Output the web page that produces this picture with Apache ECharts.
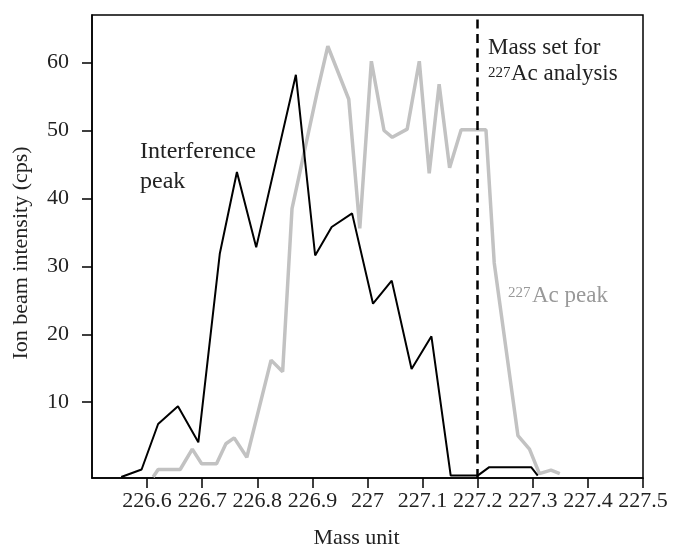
<!DOCTYPE html>
<html>
<head>
<meta charset="utf-8">
<script src="https://cdn.jsdelivr.net/npm/echarts@6/dist/echarts.min.js"></script>
<style>
html,body{margin:0;padding:0;background:#fff}
#chart{width:681px;height:547px}
</style>
</head>
<body>
<div id="chart"></div>
<script>
// interference peak (black)
var interfMass = [226.553, 226.590, 226.620, 226.656, 226.693, 226.732, 226.763, 226.798, 226.870, 226.905,
	226.935, 226.972, 227.010, 227.044, 227.080, 227.116, 227.151, 227.200, 227.221, 227.297, 227.309];
var interfCps = [-1.0, 0.1, 6.8, 9.4, 4.1, 31.9, 43.9, 32.8, 58.2, 31.6,
	35.8, 37.8, 24.5, 27.9, 14.9, 19.7, -0.8, -0.8, 0.45, 0.45, -0.8];
// 227Ac peak (grey)
var acMass = [226.611, 226.620, 226.660, 226.682, 226.699, 226.726, 226.743, 226.758, 226.781, 226.825,
	226.846, 226.863, 226.908, 226.928, 226.966, 226.986, 227.007, 227.030, 227.045, 227.072,
	227.094, 227.112, 227.130, 227.149, 227.170, 227.215, 227.230, 227.273, 227.294, 227.312,
	227.333, 227.349];
var acCps = [-1.0, 0.1, 0.1, 3.1, 0.95, 0.95, 3.9, 4.75, 1.9, 16.2,
	14.5, 38.5, 55.4, 62.4, 54.6, 35.6, 60.2, 50.0, 49.0, 50.2,
	60.2, 43.7, 56.8, 44.5, 50.1, 50.1, 30.5, 5.1, 3.1, -0.5,
	0.0, -0.5];
var massTicks = [226.6, 226.7, 226.8, 226.9, 227.0, 227.1, 227.2, 227.3, 227.4, 227.5];
var cpsTicks = [10, 20, 30, 40, 50, 60];
var massSet = 227.2;

var FONT = "'Liberation Serif','Times New Roman',serif";
var TXT = '#222';

function pairs(xs, ys){
	var out = [];
	for (var i = 0; i < xs.length; i++) {
		out.push([xs[i], ys[i]]);
	}
	return out;
}

var myChart = echarts.init(document.getElementById('chart'));

var option = {
	animation: false,
	backgroundColor: '#fff',
	grid: {
		left: 92, right: 38, top: 15, bottom: 69,
		outerBoundsMode: 'none',
		containLabel: false,
		show: true, borderColor: '#000', borderWidth: 1.5
	},
	xAxis: {
		type: 'value',
		min: 226.5,
		max: 227.5,
		name: 'Mass unit',
		nameLocation: 'middle',
		nameGap: 49,
		nameTextStyle: {fontFamily: FONT, fontSize: 22, color: TXT, padding: [0, 22, 0, 0]},
		axisLine: {onZero: false, lineStyle: {color: '#000', width: 1.5}},
		axisTick: {customValues: massTicks, length: 10, lineStyle: {color: '#000', width: 1.5}},
		axisLabel: {
			customValues: massTicks,
			margin: 12,
			fontFamily: FONT, fontSize: 22, color: TXT,
			formatter: function (v) { return String(+v.toFixed(1)); }
		},
		splitLine: {show: false}
	},
	yAxis: {
		type: 'value',
		min: -1.15,
		max: 67,
		name: 'Ion beam intensity (cps)',
		nameLocation: 'middle',
		nameGap: 60,
		nameTextStyle: {fontFamily: FONT, fontSize: 22, color: TXT, padding: [0, 13, 0, 0]},
		axisLine: {onZero: false, lineStyle: {color: '#000', width: 1.5}},
		axisTick: {customValues: cpsTicks, length: 10, lineStyle: {color: '#000', width: 1.5}},
		axisLabel: {customValues: cpsTicks, margin: 23, fontFamily: FONT, fontSize: 22, color: TXT},
		splitLine: {show: false}
	},
	series: [
		{
			name: '227Ac peak',
			type: 'line',
			data: pairs(acMass, acCps),
			symbol: 'none',
			lineStyle: {color: '#c2c2c2', width: 3.5},
			z: 2
		},
		{
			name: 'Interference peak',
			type: 'line',
			data: pairs(interfMass, interfCps),
			symbol: 'none',
			lineStyle: {color: '#000', width: 2},
			z: 3,
			markLine: {
				silent: true,
				symbol: 'none',
				label: {show: false},
				lineStyle: {color: '#000', width: 2.5, type: [9, 5.5]},
				data: [{xAxis: massSet}]
			}
		}
	],
	graphic: [
		{type: 'text', x: 140, y: 137, style: {text: 'Interference\npeak', fontFamily: FONT, fontSize: 24, lineHeight: 30, fill: TXT, align: 'left', verticalAlign: 'top'}},
		{type: 'text', x: 488, y: 34, style: {text: 'Mass set for', fontFamily: FONT, fontSize: 23, lineHeight: 27, fill: TXT, align: 'left', verticalAlign: 'top'}},
		{type: 'text', x: 488, y: 65.5, style: {text: '227', fontFamily: FONT, fontSize: 15, lineHeight: 15, fill: TXT, align: 'left', verticalAlign: 'top'}},
		{type: 'text', x: 511, y: 60.5, style: {text: 'Ac analysis', fontFamily: FONT, fontSize: 23, lineHeight: 27, fill: TXT, align: 'left', verticalAlign: 'top'}},
		{type: 'text', x: 508, y: 285.5, style: {text: '227', fontFamily: FONT, fontSize: 15, lineHeight: 15, fill: '#999', align: 'left', verticalAlign: 'top'}},
		{type: 'text', x: 532, y: 282, style: {text: 'Ac peak', fontFamily: FONT, fontSize: 23, lineHeight: 27, fill: '#999', align: 'left', verticalAlign: 'top'}}
	]
};

myChart.setOption(option);
</script>
</body>
</html>
